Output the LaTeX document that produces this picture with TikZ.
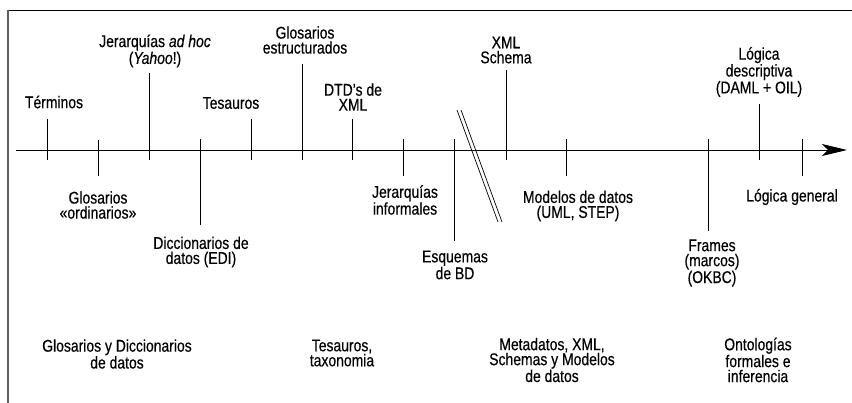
\documentclass[tikz,border=0pt]{standalone}
\usepackage{fontspec}
\setmainfont[FakeStretch=0.82,FakeBold=0.4]{Liberation Sans}
\usetikzlibrary{arrows.meta}

\begin{document}
\begin{tikzpicture}[x=1pt,y=-1pt,
		etiqueta/.style={align=center,font=\fontsize{17}{15}\selectfont,inner sep=0pt},
		marca/.style={line width=0.9pt}]
		\useasboundingbox (0,0) rectangle (852,403);
		\draw [line width=0.9pt] (8,10) -- (852,10);
		\draw [gray!75!black, line width=1.6pt] (8,10) -- (8,403);
		\draw [line width=0.9pt,-{Stealth[length=25pt,width=12pt,inset=6pt]}] (16,150) -- (847,150);
		\foreach \x/\ya/\yb in {47.5/119/160, 98/140/176, 149/73/160, 200/139/225,
			251/119/160, 302/64/160, 352/119/160, 403/139/176, 454/139/241,
			506/70/160, 566/139/176, 708/139/231, 759/104/160, 802/139/176}
			\draw [marca] (\x,\ya) -- (\x,\yb);
		\draw [line width=0.7pt] (457,110) -- (498,222);
		\draw [line width=0.7pt] (461,110) -- (502,222);
		%
		\node [etiqueta] (terminos) at (54,102) {Términos};
		\node [etiqueta] (adhoc) at (155,51) {Jerarquías \textit{ad hoc}\\(\textit{Yahoo}!)};
		\node [etiqueta] (tesauros) at (231,103) {Tesauros};
		\node [etiqueta] (glosest) at (305,40) {Glosarios\\estructurados};
		\node [etiqueta] (dtd) at (353,97) {DTD’s de\\XML};
		\node [etiqueta] (xmlsch) at (506,50) {XML\\Schema};
		\node [etiqueta] (logdesc) at (759,72) {Lógica\\descriptiva\\(DAML + OIL)};
		%
		\node [etiqueta] (glosord) at (98,205) {Glosarios\\«ordinarios»};
		\node [etiqueta] (dicc) at (201,252) {Diccionarios de\\datos (EDI)};
		\node [etiqueta] (jerinf) at (405,200) {Jerarquías\\informales};
		\node [etiqueta] (esquemas) at (455,265) {Esquemas\\de BD};
		\node [etiqueta] (modelos) at (578,206) {Modelos de datos\\(UML, STEP)};
		\node [etiqueta] (frames) at (712,263) {Frames\\(marcos)\\(OKBC)};
		\node [etiqueta] (loggen) at (792,197) {Lógica general};
		%
		\node [etiqueta] (grupoa) at (117,354) {Glosarios y Diccionarios\\de datos};
		\node [etiqueta] (grupob) at (342,353) {Tesauros,\\taxonomia};
		\node [etiqueta] (grupoc) at (552,360) {Metadatos, XML,\\Schemas y Modelos\\de datos};
		\node [etiqueta] (grupod) at (758,360) {Ontologías\\formales e\\inferencia};
	\end{tikzpicture}
\end{document}
